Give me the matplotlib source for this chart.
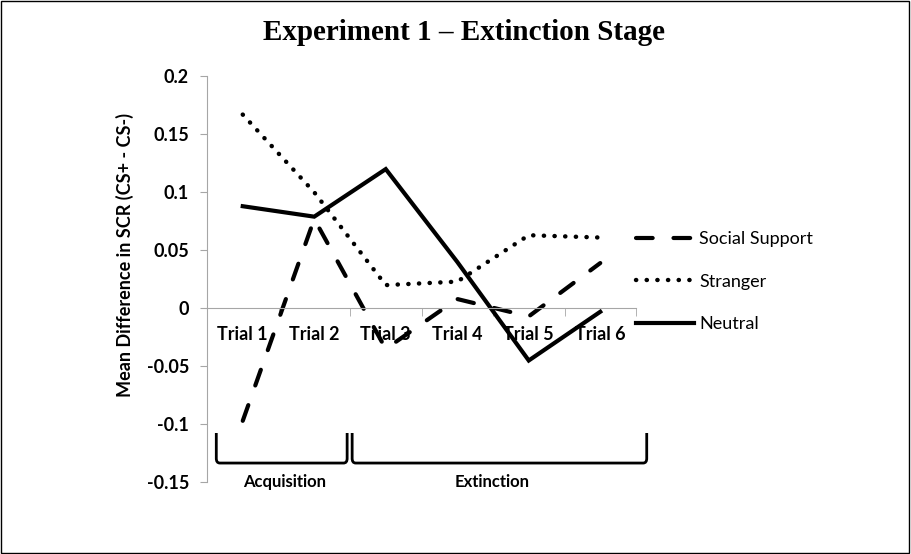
import matplotlib
matplotlib.use("Agg")
import matplotlib.pyplot as plt
from matplotlib.path import Path
from matplotlib.patches import PathPatch, Rectangle
from matplotlib.ticker import FuncFormatter, MultipleLocator

plt.rcParams['font.family'] = ['Lato', 'DejaVu Sans']

# data
trials = ['Trial 1', 'Trial 2', 'Trial 3', 'Trial 4', 'Trial 5', 'Trial 6']
social_support = [-0.097, 0.077, -0.035, 0.008, -0.007, 0.039]
stranger = [0.167, 0.100, 0.020, 0.023, 0.063, 0.061]
neutral = [0.088, 0.079, 0.120, 0.040, -0.045, -0.003]

# phase brackets under the axis: label, start, end (in category units)
phases = ['Acquisition', 'Extinction']
phase_start = [-0.37, 1.53]
phase_end = [1.46, 5.65]
phase_label_x = [0.59, 3.49]

gray = '#a6a6a6'
x = list(range(len(trials)))

fig = plt.figure(figsize=(9.11, 5.54), dpi=100)
ax = fig.add_axes([207 / 911, 1 - 482.3 / 554, 429 / 911, 406 / 554])

ax.plot(x, social_support, color='black', lw=3, linestyle=(0, (4, 5)),
        dash_capstyle='round', solid_joinstyle='miter', label='Social Support')
ax.plot(x, stranger, color='black', lw=3.2, linestyle=(0, (0.05, 2.35)),
        dash_capstyle='round', label='Stranger')
ax.plot(x, neutral, color='black', lw=3, solid_joinstyle='miter',
        label='Neutral')

ax.set_xlim(-0.5, len(trials) - 0.5)
ax.set_ylim(-0.15, 0.2)

# axes look
for s in ['top', 'right']:
    ax.spines[s].set_visible(False)
ax.spines['left'].set_color(gray)
ax.spines['bottom'].set_color(gray)
ax.spines['bottom'].set_position(('data', 0))

ax.set_xticks(x)
ax.set_xticklabels(trials, fontweight='bold', fontsize=13)
ax.set_xticks([i - 0.5 for i in range(len(trials) + 1)], minor=True)
ax.tick_params(axis='x', which='major', length=0, pad=13)
ax.tick_params(axis='x', which='minor', length=6, color=gray, direction='out')

ax.yaxis.set_major_locator(MultipleLocator(0.05))
ax.yaxis.set_major_formatter(FuncFormatter(lambda v, p: '%g' % round(v, 2)))
ax.tick_params(axis='y', length=5, color=gray, pad=8, labelsize=13)
for lbl in ax.get_yticklabels():
    lbl.set_fontweight('bold')

ax.set_ylabel('Mean Difference in SCR (CS+ - CS-)', fontweight='bold', fontsize=13)
ax.yaxis.set_label_coords(-0.17, 0.56)

# brackets
y_top, y_bot = -0.1075, -0.1334
rx, ry = 0.05, 0.004
for name, x0, x1, lx in zip(phases, phase_start, phase_end, phase_label_x):
    verts = [(x0, y_top), (x0, y_bot + ry), (x0, y_bot), (x0 + rx, y_bot),
             (x1 - rx, y_bot), (x1, y_bot), (x1, y_bot + ry), (x1, y_top)]
    codes = [Path.MOVETO, Path.LINETO, Path.CURVE3, Path.CURVE3,
             Path.LINETO, Path.CURVE3, Path.CURVE3, Path.LINETO]
    ax.add_patch(PathPatch(Path(verts, codes), fill=False, lw=2, color='black',
                           clip_on=False))
    ax.text(lx, -0.15, name, ha='center', va='center', fontweight='bold',
            fontsize=12)

leg = ax.legend(loc='center left', bbox_to_anchor=(1.0, 0.494), frameon=False,
                fontsize=13, handlelength=3.2, handletextpad=0.3,
                labelspacing=1.48, borderpad=0, borderaxespad=0)

fig.text(464 / 911, 1 - 33 / 554, 'Experiment 1 \u2013 Extinction Stage',
         ha='center', va='center', fontsize=21, fontweight='bold',
         family='Liberation Serif')

fig.add_artist(Rectangle((0.001, 0.001), 0.997, 0.997, transform=fig.transFigure,
                         fill=False, lw=1, edgecolor='black'))

fig.savefig('out.png', dpi=100)
